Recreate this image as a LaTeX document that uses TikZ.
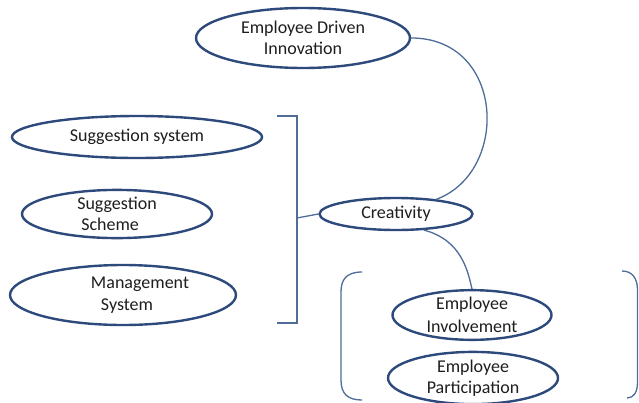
\documentclass[tikz,border=0pt]{standalone}
\usepackage{fontspec}
\setmainfont{Carlito}
\usetikzlibrary{shapes.geometric}
\definecolor{ringc}{HTML}{2E4A7C}
\definecolor{linec}{HTML}{4F6D98}
\definecolor{textc}{HTML}{1E1E1E}
\begin{document}
\begin{tikzpicture}[x=1pt,y=-1pt,
  ov/.style={ellipse, draw=ringc, line width=2.4pt, inner sep=0pt, text=textc,
    font=\fontsize{18}{21.5}\selectfont, align=center},
  conn/.style={draw=linec, line width=1.3pt}]
\useasboundingbox (0,0) rectangle (639,402);
\fill[white] (0,0) rectangle (639,402);
\node[ov, minimum width=214pt, minimum height=60pt] (edi) at (303,38) {Employee Driven\\Innovation};
\node[ov, minimum width=250pt, minimum height=42pt] (ss) at (137,137) {Suggestion system};
\node[ov, minimum width=190pt, minimum height=43pt, align=left] (sch) at (117,214) {Suggestion\\\hspace*{4pt}Scheme};
\node[ov, minimum width=226pt, minimum height=60pt, align=left] (ms) at (123,295) {\hspace*{34pt}Management\\\hspace*{44pt}System};
\node[ov, minimum width=153pt, minimum height=32pt] (cr) at (396,214) {Creativity};
\node[ov, minimum width=159pt, minimum height=44pt] (ei) at (472,315) {\raisebox{2pt}{Employee}\\[-1pt]Involvement};
\node[ov, minimum width=170pt, minimum height=49pt] (ep) at (473,378) {Employee\\Participation};
% bracket
\coordinate (bt) at (277,116);
\coordinate (bb) at (277,323);
\draw[conn] (bt) -- (297,116) -- (297,323) -- (bb);
\draw[conn] (297,218) -- (cr.west);
% curves
\draw[conn] (edi.east) .. controls (505,38) and (510,172) .. (cr.20);
\draw[conn] (cr.-30) .. controls (462,240) and (468,272) .. (ei.north);
% round brackets
\coordinate (lt) at (362,272);
\coordinate (lb) at (362,400);
\coordinate (rt) at (622,271);
\coordinate (rb) at (627,398);
\draw[conn] (lt) .. controls (346,272) and (341,280) .. (341,292) -- (341,380) .. controls (341,394) and (348,400) .. (lb);
\draw[conn] (rt) .. controls (632,271) and (637.5,278) .. (637.5,290) -- (637.5,382) .. controls (637.5,392) and (634,398) .. (rb);
\end{tikzpicture}
\end{document}
